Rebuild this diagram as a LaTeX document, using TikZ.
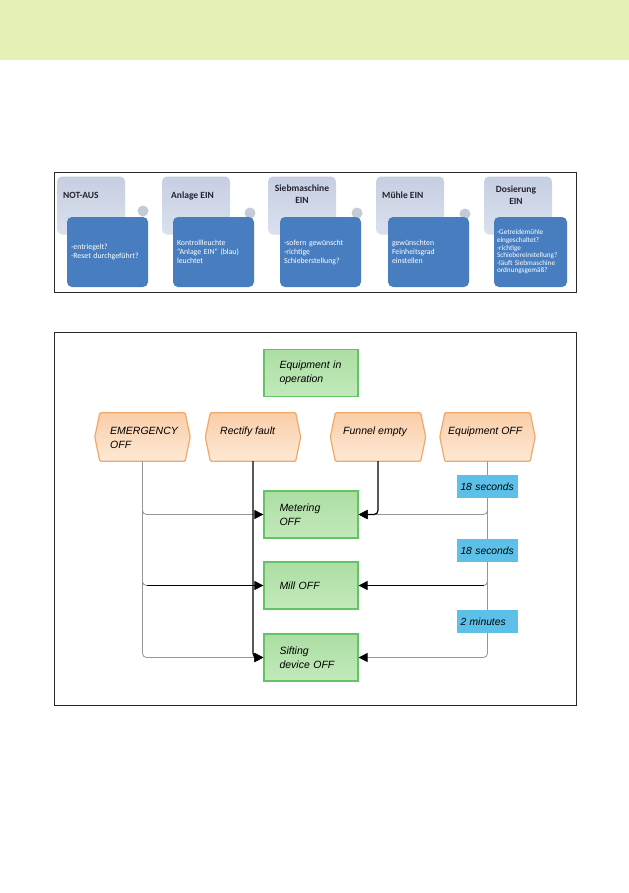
\documentclass[tikz,border=0pt]{standalone}
\usepackage{fontspec}
\setmainfont{Liberation Sans}
\newfontfamily\cbfont{Carlito}
\usetikzlibrary{arrows.meta}
\definecolor{band}{RGB}{228,240,181}
\definecolor{framec}{RGB}{40,40,40}
\definecolor{bbtop}{RGB}{198,207,226}
\definecolor{bbbot}{RGB}{218,224,237}
\definecolor{fbfill}{RGB}{72,126,192}
\definecolor{circc}{RGB}{196,203,216}
\definecolor{titlec}{RGB}{35,35,45}
\definecolor{hextop}{RGB}{250,206,168}
\definecolor{hexbot}{RGB}{253,233,214}
\definecolor{hexdraw}{RGB}{243,168,104}
\definecolor{gtop}{RGB}{172,222,164}
\definecolor{gbot}{RGB}{194,233,186}
\definecolor{gdraw}{RGB}{98,196,98}
\definecolor{lblue}{RGB}{92,192,232}
\definecolor{conn}{RGB}{150,150,150}
\begin{document}
\begin{tikzpicture}[x=1bp,y=-1bp,
  frame/.style={draw=framec,line width=0.8bp},
  backbox/.style={rectangle,rounded corners=5bp,top color=bbtop,bottom color=bbbot,draw=none,
    minimum width=68bp,minimum height=58bp,inner sep=0},
  frontbox/.style={rectangle,rounded corners=5bp,fill=fbfill,draw=none,minimum width=81bp,
    minimum height=70bp,inner xsep=4bp,inner ysep=0,text width=73bp,align=left,text=white,
    font=\cbfont\fontsize{7.8bp}{9bp}\selectfont},
  circnode/.style={circle,fill=circc,draw=none,minimum size=11bp,inner sep=0},
  titlenode/.style={inner sep=0,text=titlec,font=\cbfont\bfseries\fontsize{9.5bp}{11.5bp}\selectfont},
  gbox/.style={rectangle,top color=gtop,bottom color=gbot,draw=gdraw,line width=1.2bp,
    minimum width=94bp,minimum height=47bp,inner xsep=15.5bp,inner ysep=0,text width=63bp,align=left,
    font=\itshape\fontsize{10.5bp}{13.5bp}\selectfont},
  hexbox/.style={rectangle,draw=none,minimum width=95bp,minimum height=48bp,inner sep=0},
  hexshape/.style={top color=hextop,bottom color=hexbot,draw=hexdraw,line width=1.2bp,rounded corners=1bp},
  htext/.style={anchor=north west,inner sep=0,align=left,font=\itshape\fontsize{10.5bp}{13.5bp}\selectfont},
  lbl/.style={rectangle,fill=lblue,draw=none,minimum width=61bp,minimum height=23bp,inner xsep=3.5bp,
    inner ysep=0,text width=54bp,align=left,font=\itshape\fontsize{10.3bp}{12bp}\selectfont},
  tip/.style={-{Triangle[color=black,length=9bp,width=9bp]}},
  gline/.style={draw=conn,line width=0.8bp,rounded corners=4bp,tip},
  bline/.style={draw=black,line width=1.2bp,rounded corners=4bp}
]
\fill[white] (0,0) rectangle (629,893);
\useasboundingbox (0,0) rectangle (629,893);
\fill[band] (0,0) rectangle (629,60);

% ---------- top overview ----------
\draw[frame] (54,172) rectangle (576,292);
\node[backbox] (b1) at (91,205.5) {};
\node[backbox] (b2) at (196,205.5) {};
\node[backbox] (b3) at (302,205.5) {};
\node[backbox] (b4) at (410,205.5) {};
\node[backbox] (b5) at (518,205.5) {};
\node[circnode] (c1) at (143,211) {};
\node[circnode] (c2) at (250,213) {};
\node[circnode] (c3) at (357,213) {};
\node[circnode] (c4) at (465,214) {};
\node[titlenode,anchor=base west] (t1) at (63,198) {NOT-AUS};
\node[titlenode,anchor=base west] (t2) at (171,198) {Anlage EIN};
\node[titlenode,align=center] (t3) at (302,194) {Siebmaschine\\EIN};
\node[titlenode,anchor=base west] (t4) at (382,198) {Mühle EIN};
\node[titlenode,align=center] (t5) at (516,195) {Dosierung\\EIN};
\node[frontbox] (f1) at (107.5,252) {-entriegelt?\\-Reset durchgeführt?};
\node[frontbox] (f2) at (213.5,252) {Kontrollleuchte\\“Anlage EIN” (blau)\\leuchtet};
\node[frontbox] (f3) at (320.5,252) {-sofern gewünscht\\-richtige\\Schieberstellung?};
\node[frontbox] (f4) at (428.5,252) {gewünschten\\Feinheitsgrad\\einstellen};
\node[frontbox,minimum width=73bp,inner xsep=3bp,text width=67bp,font=\cbfont\fontsize{7.2bp}{7.6bp}\selectfont] (f5) at (530.5,252)
  {-Getreidemühle\\eingeschaltet?\\-richtige\\Schiebereinstellung?\\-läuft Siebmaschine\\ordnungsgemäß?};

% ---------- bottom flow ----------
\draw[frame] (54,332) rectangle (576,705);
\node[gbox] (eqop) at (311,373) {Equipment in\\operation};
\node[gbox] (meter) at (311,514.5) {Metering\\OFF};
\node[gbox] (mill) at (311,585.5) {Mill OFF};
\node[gbox] (sift) at (311,657.5) {Sifting\\device OFF};

\node[hexbox] (em) at (142.5,437) {};
\node[hexbox] (rf) at (253,437) {};
\node[hexbox] (fe) at (378,437) {};
\node[hexbox] (eo) at (487.5,437) {};
\foreach \n in {em,rf,fe,eo}
  \shadedraw[hexshape] ([xshift=5bp]\n.north west) -- ([xshift=-5bp]\n.north east) -- (\n.east)
    -- ([xshift=-5bp]\n.south east) -- ([xshift=5bp]\n.south west) -- (\n.west) -- cycle;
\node[htext] (emt) at (110,427) {EMERGENCY\\OFF};
\node[htext] (rft) at (220,427) {Rectify fault};
\node[htext] (fet) at (343,427) {Funnel empty};
\node[htext] (eot) at (448,427) {Equipment OFF};

% connectors
\draw[gline] (em.south) |- (meter.west);
\draw[gline] (em.south) |- (sift.west);
\draw[gline] (em.south) |- (mill.west);
\draw[bline,shorten >=4bp] ([xshift=4bp]em.south |- mill.west) -- (mill.west);
\draw[gline] (eo.south) |- (meter.east);
\draw[gline] (eo.south) |- (sift.east);
\draw[gline] (eo.south) |- (mill.east);
\draw[bline,shorten >=4bp] ([xshift=-4bp]eo.south |- mill.east) -- (mill.east);
\draw[bline,tip] (rf.south) |- (sift.west);
\draw[bline,tip] (fe.south) |- (meter.east);

\node[lbl] (l1) at (487.5,486.5) {18 seconds};
\node[lbl] (l2) at (487.5,550.5) {18 seconds};
\node[lbl] (l3) at (487.5,621.5) {2 minutes};
\end{tikzpicture}
\end{document}
